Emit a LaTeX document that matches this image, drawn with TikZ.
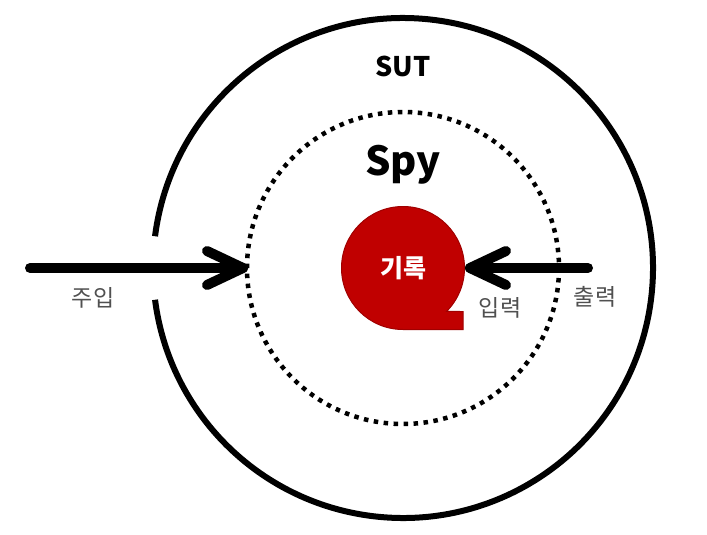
\documentclass[tikz,border=0pt]{standalone}
\usepackage{fontspec}
\usetikzlibrary{calc}
\setmainfont{Noto Sans CJK KR}
\newfontfamily\kr{Noto Sans CJK KR}
\definecolor{recred}{HTML}{C00000}
\definecolor{recedge}{HTML}{A00000}
\definecolor{labgray}{HTML}{505050}
\tikzset{
  outerring/.style={line width=6pt, draw=black},
  spyring/.style={line width=4.5pt, draw=black, dash pattern=on 4.5pt off 5.5pt},
  shaft/.style={line width=10pt, line cap=round},
  chevron/.style={line width=10pt, line cap=round, line join=round},
  recshape/.style={fill=recred, draw=recedge, line width=1pt},
  lab/.style={font=\kr\fontsize{23}{23}\selectfont, text=labgray, inner sep=0pt},
  title/.style={font=\kr\bfseries, text=black, inner sep=0pt}
}
\begin{document}
\begin{tikzpicture}[x=1pt,y=-1pt]
\useasboundingbox (0,0) rectangle (707,535);
\fill[white] (0,0) rectangle (707,535);
\coordinate (c) at (403,268);
% outer SUT circle with gap on the left
\draw[outerring] ($(c)+(187.3:250)$) arc[start angle=187.3, end angle=532.7, radius=250];
% dotted spy circle
\draw[spyring] (c) circle[radius=156];
% red record shape (circle with a square tail at bottom right)
\path[recshape] (403,329.5) arc[start angle=90, end angle=405, radius=61.5] -- (463,311.5) -- (463,329.5) -- cycle;
\node[font=\kr\bfseries\fontsize{25}{25}\selectfont, text=white, inner sep=0pt] (rec) at (403,268) {기록};
% titles
\node[title, font=\kr\bfseries\fontsize{27}{27}\selectfont] (sut) at (403,66) {SUT};
\node[title, font=\kr\bfseries\fontsize{40}{40}\selectfont] (spy) at (403,165) {Spy};
% left arrow (injection)
\coordinate (ls) at (30,268);
\coordinate (lt) at (243,268);
\draw[shaft] (ls) -- (lt);
\draw[chevron] (207,251) -- (lt) -- (207,285);
% right arrow (output -> input)
\coordinate (rs) at (588,268);
\coordinate (rt) at (470,268);
\draw[shaft] (rs) -- (rt);
\draw[chevron] (506,251) -- (rt) -- (506,285);
% labels
\node[lab] (inj) at (93,298) {주입};
\node[lab] (inp) at (500,308) {입력};
\node[lab] (out) at (595,297) {출력};
\end{tikzpicture}
\end{document}
